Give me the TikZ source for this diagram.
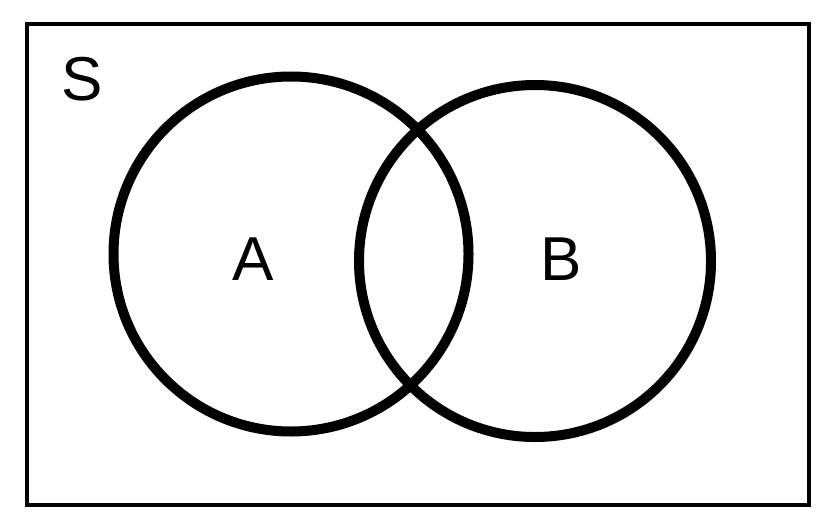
\documentclass[tikz,border=0pt]{standalone}
\usepackage{fontspec}
\setmainfont{Liberation Sans}
\begin{document}
\begin{tikzpicture}[x=0.5pt,y=-0.5pt]
  \useasboundingbox (0,0) rectangle (838,524);
  \draw[line width=2pt] (27,24) rectangle (809,505);
  \draw[font=\fontsize{31}{37}\selectfont]
    (82,79) node (S){S}
    (253,259.5) node (A){A}
    (561,259) node (B){B};
  \begin{scope}[line width=5pt]
    \draw (291,254) circle (177.5);
    \draw (535,261) circle (176);
  \end{scope}
\end{tikzpicture}
\end{document}
